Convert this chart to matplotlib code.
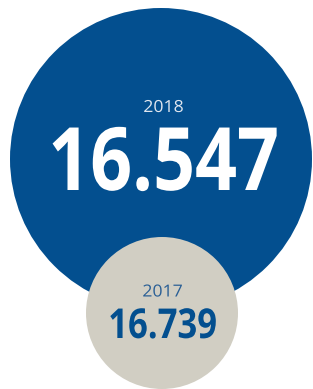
import matplotlib
matplotlib.use("Agg")
from matplotlib import pyplot as plt
from matplotlib.patches import Circle
from matplotlib.patheffects import AbstractPathEffect
from matplotlib.transforms import Affine2D

# data
years = ["2018", "2017"]
values = [16547, 16739]

# layout (pixel units, y down)
centers = [(161, 159), (162, 313)]
radii = [151, 76]
fill_colors = ["#034f8f", "#d1cec3"]
year_colors = ["#dfe6ef", "#2a5f95"]
value_colors = ["#ffffff", "#034f8f"]
year_base = [112, 296.5]
value_base = [190, 338]
text_x = [163.5, 162.5]
value_sizes = [63, 29.7]


class Narrow(AbstractPathEffect):
    """squeeze text horizontally around its own centre (condensed face look-alike)"""

    def __init__(self, sx):
        super().__init__()
        self.sx = sx

    def draw_path(self, renderer, gc, tpath, affine, rgbFace=None):
        ext = tpath.get_extents(affine)
        cx = (ext.x0 + ext.x1) / 2
        squeeze = Affine2D().translate(-cx, 0).scale(self.sx, 1).translate(cx, 0)
        renderer.draw_path(gc, tpath, affine + squeeze, rgbFace)


def fmt(v):
    return f"{v:,}".replace(",", ".")


fig = plt.figure(figsize=(3.13, 3.89), dpi=100)
ax = fig.add_axes([0, 0, 1, 1])
ax.set_xlim(0, 313)
ax.set_ylim(389, 0)
ax.set_aspect("equal")
ax.axis("off")

for i, (yr, v) in enumerate(zip(years, values)):
    cx, cy = centers[i]
    ax.add_patch(Circle((cx, cy), radii[i], color=fill_colors[i], lw=0, zorder=i))
    ax.text(text_x[i], year_base[i], yr, color=year_colors[i], fontsize=12,
            family="Open Sans", ha="center", va="baseline", zorder=5,
            path_effects=[Narrow(1.06)])
    ax.text(text_x[i], value_base[i], fmt(v), color=value_colors[i],
            fontsize=value_sizes[i], family="Open Sans", fontweight="bold",
            ha="center", va="baseline", zorder=5, path_effects=[Narrow(0.84)])

fig.savefig("out.png", dpi=100)
